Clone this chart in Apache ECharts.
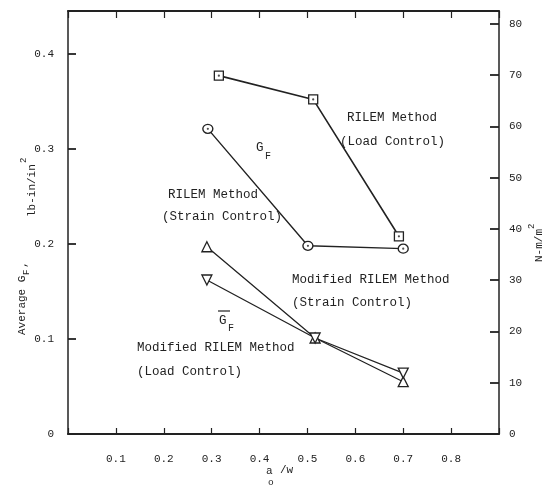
<!DOCTYPE html>
<html>
<head>
<meta charset="utf-8">
<script src="https://cdn.jsdelivr.net/npm/echarts@6/dist/echarts.min.js"></script>
<style>
  html, body { margin: 0; padding: 0; background: #fff; }
  #chart { width: 545px; height: 488px; }
</style>
</head>
<body>
<div id="chart"></div>
<script>
// Crack length ratio a0/w for each specimen group
const rilemLoadX   = [0.315, 0.512, 0.691];
const rilemStrainX = [0.292, 0.501, 0.700];
const modStrainX   = [0.290, 0.516, 0.700];
const modLoadX     = [0.290, 0.516, 0.700];

// Average fracture energy G_F, lb-in/in^2
const rilemLoadGF   = [0.377, 0.352, 0.208];
const rilemStrainGF = [0.321, 0.198, 0.195];
const modStrainGF   = [0.197, 0.101, 0.055];
const modLoadGF     = [0.162, 0.101, 0.064];

// Axis scales
const xTickStep = 0.1;
const leftTickStep = 0.1;
const rightTickStep = 10;   // N-m/m^2

const FONT = '"Liberation Mono", "DejaVu Sans Mono", monospace';
const INK = '#222';

const pairs = (xs, ys) => xs.map((x, i) => [x, ys[i]]);

const chart = echarts.init(document.getElementById('chart'), null, { renderer: 'canvas' });

function lineSeries(name, xs, ys, symbol, size, rotate, width) {
  return {
    name: name,
    type: 'line',
    data: pairs(xs, ys),
    symbol: symbol,
    symbolSize: size,
    symbolRotate: rotate || 0,
    showAllSymbol: true,
    lineStyle: { color: INK, width: width },
    itemStyle: { color: '#fff', borderColor: INK, borderWidth: 1.3 },
    z: 3
  };
}

function dotSeries(xs, ys) {
  return {
    type: 'scatter',
    data: pairs(xs, ys),
    symbol: 'circle',
    symbolSize: 2.2,
    itemStyle: { color: INK },
    silent: true,
    z: 4
  };
}

function txt(x, y, s, size) {
  return {
    type: 'text', left: x, top: y,
    style: { text: s, font: (size || 12.5) + 'px ' + FONT, fill: INK }
  };
}

const option = {
  animation: false,
  backgroundColor: '#fff',
  grid: { left: 68, right: 46, top: 11, bottom: 54 },
  xAxis: [
    {
      type: 'value', position: 'bottom', min: 0, max: 0.9, interval: xTickStep,
      axisLine: { show: true, onZero: false, lineStyle: { color: INK, width: 2.2 } },
      axisTick: { show: true, inside: true, length: 6, lineStyle: { color: INK, width: 1.2 } },
      axisLabel: {
        margin: 20, color: INK, fontFamily: FONT, fontSize: 11,
        formatter: v => (v > 0.05 && v < 0.85) ? v.toFixed(1) : ''
      },
      splitLine: { show: false }
    },
    {
      type: 'value', position: 'top', min: 0, max: 0.9, interval: xTickStep,
      axisLine: { show: true, onZero: false, lineStyle: { color: INK, width: 2 } },
      axisTick: { show: true, inside: true, length: 7, lineStyle: { color: INK, width: 1.2 } },
      axisLabel: { show: false },
      splitLine: { show: false }
    }
  ],
  yAxis: [
    {
      type: 'value', position: 'left', min: 0, max: 0.445, interval: leftTickStep,
      axisLine: { show: true, onZero: false, lineStyle: { color: INK, width: 1.5 } },
      axisTick: { show: true, inside: true, length: 8, lineStyle: { color: INK, width: 1.8 } },
      axisLabel: {
        margin: 14, color: INK, fontFamily: FONT, fontSize: 11, showMaxLabel: false,
        formatter: v => v === 0 ? '0' : v.toFixed(1)
      },
      splitLine: { show: false }
    },
    {
      type: 'value', position: 'right', min: 0, max: 82.5, interval: rightTickStep,
      axisLine: { show: true, onZero: false, lineStyle: { color: INK, width: 1.5 } },
      axisTick: { show: true, inside: true, length: 9, lineStyle: { color: INK, width: 1.8 } },
      axisLabel: {
        margin: 10, color: INK, fontFamily: FONT, fontSize: 11, showMaxLabel: false
      },
      splitLine: { show: false }
    }
  ],
  series: [
    lineSeries('RILEM Method (Load Control)', rilemLoadX, rilemLoadGF, 'rect', 9, 0, 1.6),
    lineSeries('RILEM Method (Strain Control)', rilemStrainX, rilemStrainGF, 'circle', [10, 9], 0, 1.4),
    lineSeries('Modified RILEM Method (Strain Control)', modStrainX, modStrainGF, 'triangle', 10, 0, 1.3),
    lineSeries('Modified RILEM Method (Load Control)', modLoadX, modLoadGF, 'triangle', 10, 180, 1.3),
    dotSeries(rilemLoadX, rilemLoadGF),
    dotSeries(rilemStrainX, rilemStrainGF)
  ],
  graphic: [
    // series annotations
    txt(347, 111, 'RILEM Method'),
    txt(340, 135, '(Load Control)'),
    txt(256, 141, 'G', 12.5),
    txt(265, 151, 'F', 10),
    txt(168, 188, 'RILEM Method'),
    txt(162, 210, '(Strain Control)'),
    txt(292, 273, 'Modified RILEM Method'),
    txt(292, 296, '(Strain Control)'),
    txt(219, 314, 'G', 12.5),
    txt(228, 323, 'F', 10),
    { type: 'line', shape: { x1: 218, y1: 311, x2: 230, y2: 311 }, style: { stroke: INK, lineWidth: 1.2 } },
    txt(137, 341, 'Modified RILEM Method'),
    txt(137, 365, '(Load Control)'),
    // x axis title
    txt(266, 466, 'a', 11),
    txt(268, 477, 'o', 9.5),
    txt(280, 465, '/w', 11),
    // left axis title, reads bottom to top
    {
      type: 'group', x: 22, y: 335, rotation: Math.PI / 2,
      children: [
        { type: 'text', x: 0, y: 0, style: { text: 'Average G', font: '11px ' + FONT, fill: INK, textVerticalAlign: 'middle' } },
        { type: 'text', x: 60, y: 5, style: { text: 'F', font: '9px ' + FONT, fill: INK, textVerticalAlign: 'middle' } },
        { type: 'text', x: 67, y: 1, style: { text: ',', font: '11px ' + FONT, fill: INK, textVerticalAlign: 'middle' } },
        { type: 'text', x: 118, y: 10, style: { text: 'lb-in/in', font: '11px ' + FONT, fill: INK, textVerticalAlign: 'middle' } },
        { type: 'text', x: 172, y: 2, style: { text: '2', font: '9px ' + FONT, fill: INK, textVerticalAlign: 'middle' } }
      ]
    },
    // right axis title
    {
      type: 'group', x: 539, y: 262, rotation: Math.PI / 2,
      children: [
        { type: 'text', x: 0, y: 0, style: { text: 'N-m/m', font: '11px ' + FONT, fill: INK, textVerticalAlign: 'middle' } },
        { type: 'text', x: 33, y: -7, style: { text: '2', font: '9px ' + FONT, fill: INK, textVerticalAlign: 'middle' } }
      ]
    }
  ]
};

chart.setOption(option);
</script>
</body>
</html>
